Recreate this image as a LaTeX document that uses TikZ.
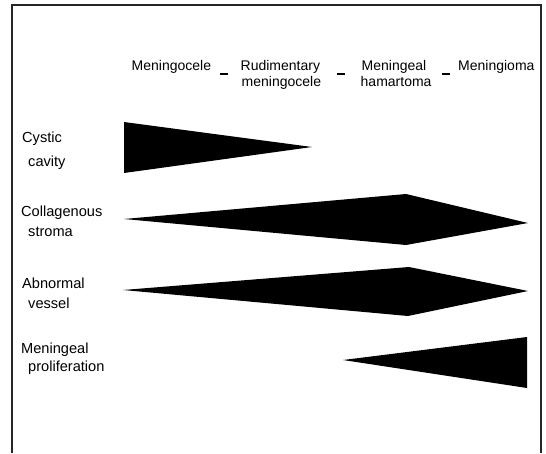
\documentclass[tikz,border=0pt]{standalone}
\usepackage{fontspec}
\setmainfont{Liberation Sans}
\begin{document}
\begin{tikzpicture}[x=1pt,y=-1pt,
  lbl/.style={anchor=base west,inner sep=0pt,font=\fontsize{14}{16}\selectfont},
  rowlbl/.style={lbl,font=\fontsize{14.6}{16}\selectfont},
  sep/.style={line width=1.6pt},
  band/.style={fill=black,draw=none},
  frame/.style={line width=1.1pt,draw=black!85}]
\useasboundingbox (0,0) rectangle (546,453);
% frame
\draw[frame] (12,453) -- (12,5) -- (541,5) -- (541,453);
% header
\node[lbl] (h1) at (131.5,70) {Meningocele};
\node[lbl] (h2a) at (240.5,70) {Rudimentary};
\node[lbl] (h2b) at (241.5,86) {meningocele};
\node[lbl] (h3a) at (361.5,70) {Meningeal};
\node[lbl] (h3b) at (360.5,86) {hamartoma};
\node[lbl] (h4) at (458,70) {Meningioma};
\draw[sep] (220,74) -- (228,74);
\draw[sep] (337,74) -- (345,74);
\draw[sep] (442,74) -- (450,74);
% row labels
\node[rowlbl] (r1a) at (22,142) {Cystic};
\node[rowlbl] (r1b) at (28,166) {cavity};
\node[rowlbl] (r2a) at (21,216) {Collagenous};
\node[rowlbl] (r2b) at (28,236) {stroma};
\node[rowlbl] (r3a) at (22,288) {Abnormal};
\node[rowlbl] (r3b) at (28,308) {vessel};
\node[rowlbl] (r4a) at (21,353) {Meningeal};
\node[rowlbl] (r4b) at (28,371) {proliferation};
% bands
\fill[band] (124,122) -- (124,173) -- (312,147) -- cycle;
\fill[band] (124,219) -- (406,194) -- (528,223) -- (406,245) -- cycle;
\fill[band] (123,290) -- (409,267) -- (528,291) -- (408,316) -- cycle;
\fill[band] (343,360) -- (527,337) -- (527,388) -- cycle;
\end{tikzpicture}
\end{document}
